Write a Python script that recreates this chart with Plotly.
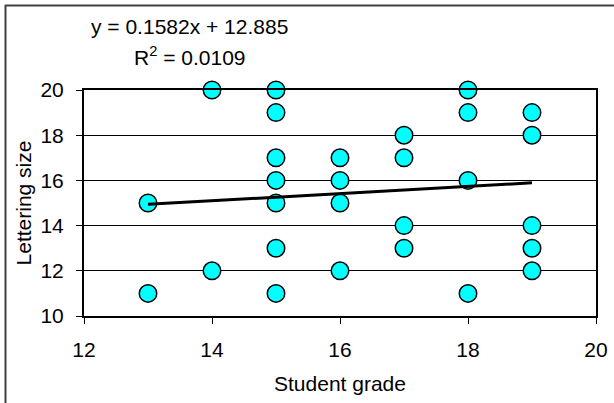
import plotly.graph_objects as go

# Data
grade = [13, 13,
         14, 14,
         15, 15, 15, 15, 15, 15, 15,
         16, 16, 16, 16,
         17, 17, 17, 17,
         18, 18, 18, 18,
         19, 19, 19, 19, 19]
lettering = [15, 11,
             20, 12,
             20, 19, 17, 16, 15, 13, 11,
             17, 16, 15, 12,
             18, 17, 14, 13,
             20, 19, 16, 11,
             19, 18, 14, 13, 12]

slope = 0.1582
intercept = 12.885
r_squared = 0.0109

x_ticks = [12, 14, 16, 18, 20]
y_ticks = [10, 12, 14, 16, 18, 20]

FONT = "Liberation Sans, Arial, sans-serif"
FS = 21

x_min, x_max = min(grade), max(grade)
trend_x = [x_min, x_max]
trend_y = [slope * v + intercept for v in trend_x]

fig = go.Figure()
fig.add_trace(go.Scatter(
    x=grade, y=lettering, mode="markers", cliponaxis=False,
    marker=dict(size=17.5, color="#00FFFF", line=dict(color="black", width=1.5)),
    showlegend=False,
))
fig.add_trace(go.Scatter(
    x=trend_x, y=trend_y, mode="lines",
    line=dict(color="black", width=3),
    showlegend=False, hoverinfo="skip",
))

fig.update_layout(
    width=614, height=403,
    margin=dict(l=84, r=18, t=90, b=87),
    paper_bgcolor="white", plot_bgcolor="white",
    font=dict(family=FONT, size=FS, color="black"),
    xaxis=dict(
        range=[12, 20], tickvals=x_ticks, ticktext=[str(t) for t in x_ticks],
        showgrid=False, zeroline=False, automargin=False,
        showline=True, linecolor="black", linewidth=2, mirror=True,
        ticks="outside", ticklen=6, tickcolor="black", tickwidth=1,
        ticklabelstandoff=8,
        title=dict(text="Student grade", standoff=16, font=dict(size=FS)),
    ),
    yaxis=dict(
        range=[10, 20], tickvals=y_ticks, ticktext=[str(t) for t in y_ticks],
        showgrid=True, gridcolor="black", gridwidth=1, zeroline=False,
        automargin=False,
        showline=True, linecolor="black", linewidth=2, mirror=True,
        ticks="outside", ticklen=6, tickcolor="black", tickwidth=1,
        ticklabelstandoff=8,
        title=dict(text="Lettering size", standoff=3, font=dict(size=FS)),
    ),
    annotations=[
        dict(text=f"y = {slope}x + {intercept}", xref="paper", yref="paper",
             x=(189 - 84) / 512, y=(316 - 27) / 226, showarrow=False,
             xanchor="center", yanchor="middle", font=dict(size=FS)),
        dict(text=f"R<sup>2</sup> = {r_squared}", xref="paper", yref="paper",
             x=(190 - 84) / 512, y=(316 - 56) / 226, showarrow=False,
             xanchor="center", yanchor="middle", font=dict(size=FS)),
    ],
    shapes=[
        dict(type="line", xref="paper", yref="paper",
             x0=(5 - 84) / 512, x1=(614 - 84) / 512,
             y0=(316 - 5.5) / 226, y1=(316 - 5.5) / 226,
             line=dict(color="#404040", width=2)),
        dict(type="line", xref="paper", yref="paper",
             x0=(5.5 - 84) / 512, x1=(5.5 - 84) / 512,
             y0=(316 - 5) / 226, y1=(316 - 403) / 226,
             line=dict(color="#404040", width=2)),
    ],
)

fig.write_html("out.html",
               config={"displayModeBar": False},
               post_script="document.body.style.margin='0';document.body.style.overflow='hidden';")
